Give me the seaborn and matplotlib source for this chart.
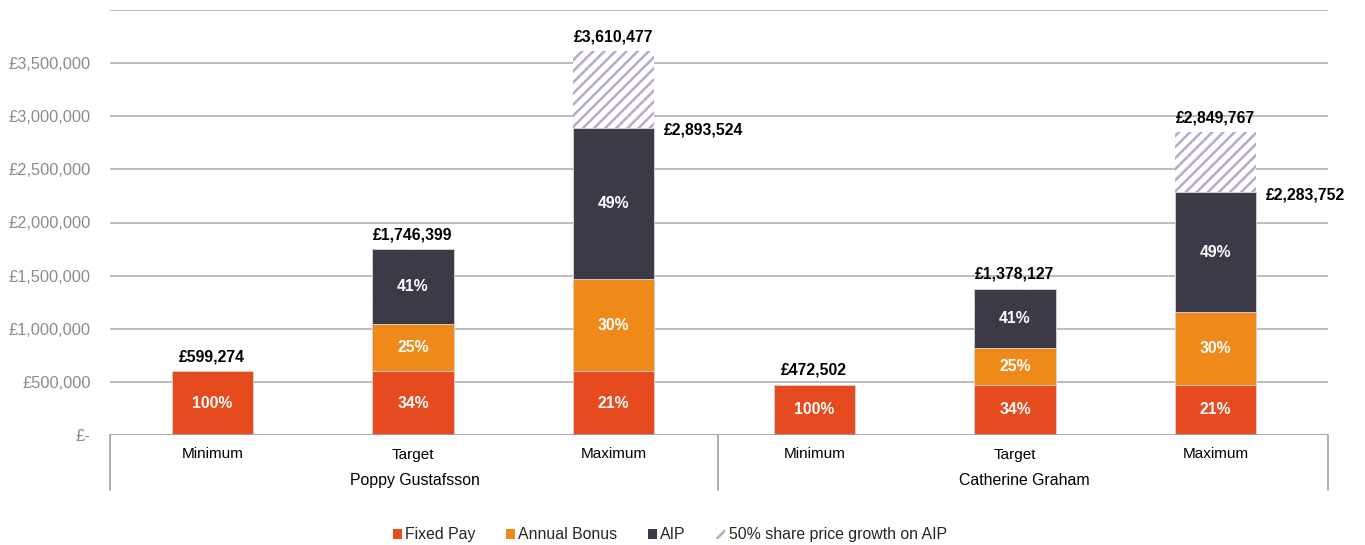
import matplotlib
matplotlib.use("Agg")
import matplotlib.pyplot as plt
import matplotlib.transforms as mtransforms
from matplotlib.patches import Patch
import seaborn as sns
import pandas as pd

# ---- data ----
people = ["Poppy Gustafsson", "Catherine Graham"]
scenarios = ["Minimum", "Target", "Maximum"]
fixed_pay = [599274, 599274, 599274, 472502, 472502, 472502]
annual_bonus = [0, 449456, 868057, 0, 344532, 685126]
aip = [0, 697669, 1426193, 0, 561093, 1126124]
share_growth = [0, 0, 716953, 0, 0, 566015]
totals = [599274, 1746399, 3610477, 472502, 1378127, 2849767]
pre_growth_totals = [None, None, 2893524, None, None, 2283752]
pct_fixed = ["100%", "34%", "21%", "100%", "34%", "21%"]
pct_bonus = [None, "25%", "30%", None, "25%", "30%"]
pct_aip = [None, "41%", "49%", None, "41%", "49%"]
legend_labels = ["Fixed Pay", "Annual Bonus", "AIP", "50% share price growth on AIP"]
y_ticks = [0, 500000, 1000000, 1500000, 2000000, 2500000, 3000000, 3500000, 4000000]

# ---- style ----
sns.set_style("white")
plt.rcParams["font.family"] = ["Liberation Sans", "DejaVu Sans"]
plt.rcParams["hatch.linewidth"] = 1.8

C_FIXED = "#E64A1F"
C_BONUS = "#EF8A1A"
C_AIP = "#3B3B47"
C_HATCH = "#B5A9CF"
C_GRID = "#B8B8B8"
C_EDGE = "#D8D8D8"

keys = [f"{p}|{s}" for p in people for s in scenarios]

cum_fixed = fixed_pay
cum_bonus = [a + b for a, b in zip(cum_fixed, annual_bonus)]
cum_aip = [a + b for a, b in zip(cum_bonus, aip)]
cum_total = [a + b for a, b in zip(cum_aip, share_growth)]

df = pd.DataFrame({"key": keys, "fixed": cum_fixed, "bonus": cum_bonus,
                   "aip": cum_aip, "total": cum_total})

fig = plt.figure(figsize=(13.65, 5.45), dpi=100)
ax = fig.add_axes([110 / 1365, 1 - 435 / 545, (1328 - 110) / 1365, 425 / 545])

W = 0.405
sns.barplot(data=df, x="key", y="total", order=keys, color="white", width=W,
            edgecolor=C_HATCH, linewidth=0, hatch="///", ax=ax, zorder=3,
            saturation=1)
sns.barplot(data=df, x="key", y="aip", order=keys, color=C_AIP, width=W,
            edgecolor=C_EDGE, linewidth=0.6, ax=ax, zorder=3, saturation=1)
sns.barplot(data=df, x="key", y="bonus", order=keys, color=C_BONUS, width=W,
            edgecolor=C_EDGE, linewidth=0.6, ax=ax, zorder=3, saturation=1)
sns.barplot(data=df, x="key", y="fixed", order=keys, color=C_FIXED, width=W,
            edgecolor=C_EDGE, linewidth=0.6, ax=ax, zorder=3, saturation=1)

XL, XM, XR = -0.51, 2.52, 5.56
ax.set_xlim(XL, XR)
ax.set_ylim(0, 4000000)
ax.set_yticks(y_ticks)
ax.set_yticklabels(["£-" if v == 0 else ("" if v == 4000000 else f"£{v:,}") for v in y_ticks],
                   color="#8C8C8C", fontsize=11.8)
ax.tick_params(axis="y", length=0, pad=14)
ax.set_xlabel("")
ax.set_ylabel("")
for s in ["left", "right", "top", "bottom"]:
    ax.spines[s].set_visible(False)
for v in y_ticks[1:]:
    ax.axhline(v, color=C_GRID, lw=1.3, zorder=1)
ax.axhline(0, color="#A0A0A0", lw=1.3, zorder=4)

# x labels (two-level)
ax.set_xticks(range(len(keys)))
ax.set_xticklabels([k.split("|")[1] for k in keys], fontsize=11, color="black")
ax.tick_params(axis="x", length=0, pad=9)
trans = mtransforms.blended_transform_factory(ax.transData, ax.transAxes)
for xv in [XL, XM, XR]:
    ax.plot([xv, xv], [0, -0.13], transform=trans, color="#A0A0A0", lw=1.2,
            clip_on=False)
group_bounds = [(XL, XM), (XM, XR)]
for p, (a, b) in zip(people, group_bounds):
    ax.text((a + b) / 2 + 0.005, -0.108, p, transform=trans, ha="center",
            va="center", fontsize=11.4, color="black")

# value labels
for i in range(len(keys)):
    ax.annotate(f"£{totals[i]:,}", (i, cum_total[i]), xytext=(0, 5),
                textcoords="offset points", ha="center", va="bottom",
                fontsize=11.3, fontweight="bold", color="black")
    if pre_growth_totals[i] is not None:
        ax.annotate(f"£{pre_growth_totals[i]:,}", (i + W / 2, cum_aip[i]),
                    xytext=(7, -2), textcoords="offset points", ha="left",
                    va="center", fontsize=11.3, fontweight="bold", color="black")
    segs = [(0, cum_fixed[i], pct_fixed[i]), (cum_fixed[i], cum_bonus[i], pct_bonus[i]),
            (cum_bonus[i], cum_aip[i], pct_aip[i])]
    for lo, hi, lab in segs:
        if lab:
            ax.text(i, (lo + hi) / 2, lab, ha="center", va="center",
                    fontsize=11.3, fontweight="bold", color="white", zorder=5)

handles = [Patch(facecolor=C_FIXED, edgecolor="none"),
           Patch(facecolor=C_BONUS, edgecolor="none"),
           Patch(facecolor=C_AIP, edgecolor="none"),
           Patch(facecolor="white", edgecolor=C_HATCH, hatch="///", linewidth=0)]
fig.legend(handles, legend_labels, loc="center", bbox_to_anchor=(0.4905, 0.019),
           ncol=4, frameon=False, fontsize=11.4, handlelength=0.6,
           handleheight=0.6, handletextpad=0.2, columnspacing=1.9)

fig.savefig("out.png", dpi=100, facecolor="white")
